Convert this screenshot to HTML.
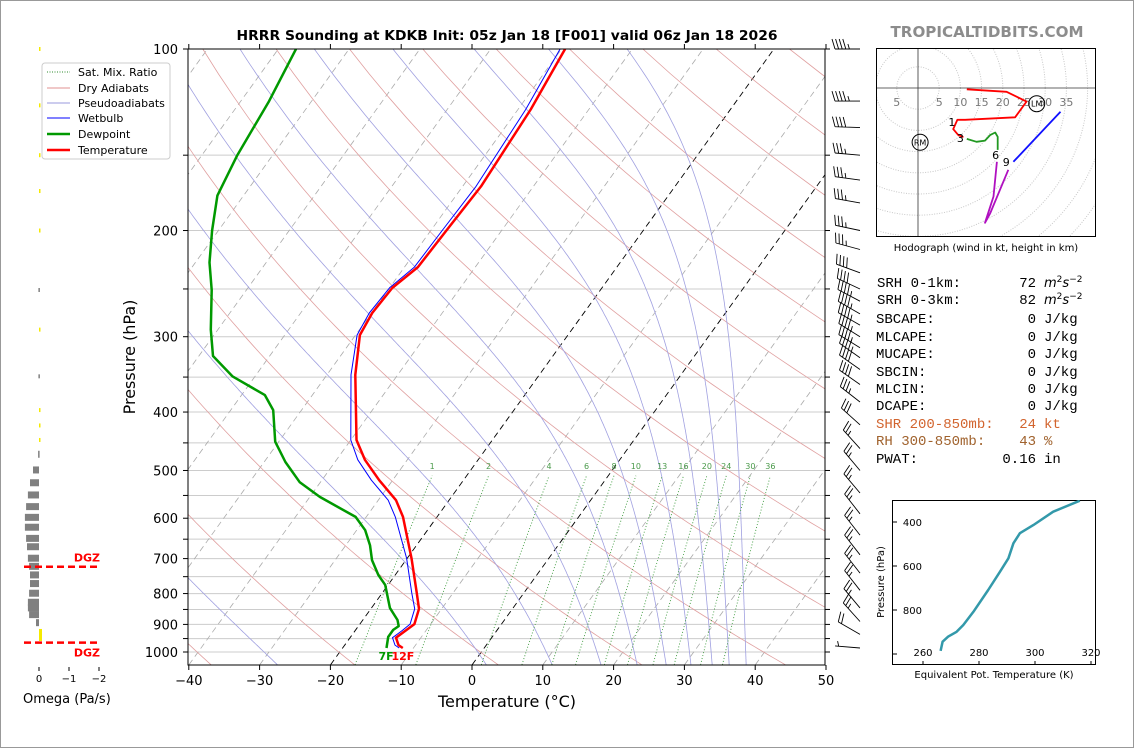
<!DOCTYPE html>
<html><head><meta charset="utf-8"><title>HRRR Sounding KDKB</title>
<style>
html,body{margin:0;padding:0;background:#fff;}
svg{display:block;font-family:"DejaVu Sans","Liberation Sans",sans-serif;}
</style></head>
<body>
<svg id="fig" width="1134" height="748" viewBox="0 0 1134 748" xmlns="http://www.w3.org/2000/svg">
<defs>
<clipPath id="mainClip"><rect x="188" y="49" width="637" height="616"/></clipPath>
<clipPath id="hodoClip"><rect x="876" y="48" width="220" height="189"/></clipPath>
<clipPath id="theClip"><rect x="892" y="500" width="204" height="165"/></clipPath>
</defs>
<rect x="0.5" y="0.5" width="1133" height="747" fill="#fff" stroke="#999"/>
<g id="bg" clip-path="url(#mainClip)"></g>
<g id="prof" clip-path="url(#mainClip)"></g>
<g id="axes"></g>
<g id="barbs"></g>
<g id="omega"></g>
<g id="hodo"></g>
<g id="thetae"></g>

<text x="507" y="40" text-anchor="middle" font-size="13" font-weight="bold" textLength="541" lengthAdjust="spacingAndGlyphs">HRRR Sounding at KDKB Init: 05z Jan 18 [F001] valid 06z Jan 18 2026</text>
<text x="987" y="37" text-anchor="middle" font-size="15" font-weight="bold" fill="#8c8c8c" textLength="193" lengthAdjust="spacingAndGlyphs">TROPICALTIDBITS.COM</text>
<text x="507" y="707" text-anchor="middle" font-size="16">Temperature (°C)</text>
<text x="135" y="357" text-anchor="middle" font-size="16" transform="rotate(-90 135 357)">Pressure (hPa)</text>
<text x="23" y="703" font-size="13">Omega (Pa/s)</text>

<g>
<rect x="42" y="63" width="128" height="96" rx="3" fill="#fff" stroke="#ccc"/>
<line x1="47" y1="72" x2="70" y2="72" stroke="#2e8b2e" stroke-dasharray="1,1.5"/>
<text x="78" y="76" font-size="11">Sat. Mix. Ratio</text>
<line x1="47" y1="88" x2="70" y2="88" stroke="#e09090"/>
<text x="78" y="92" font-size="11">Dry Adiabats</text>
<line x1="47" y1="103" x2="70" y2="103" stroke="#9999dd"/>
<text x="78" y="107" font-size="11">Pseudoadiabats</text>
<line x1="47" y1="118" x2="70" y2="118" stroke="#0000ff"/>
<text x="78" y="122" font-size="11">Wetbulb</text>
<line x1="47" y1="134" x2="70" y2="134" stroke="#009900" stroke-width="2.5"/>
<text x="78" y="138" font-size="11">Dewpoint</text>
<line x1="47" y1="150" x2="70" y2="150" stroke="#ff0000" stroke-width="2.5"/>
<text x="78" y="154" font-size="11">Temperature</text>
</g>

<g font-family="'Liberation Mono','DejaVu Sans Mono',monospace" font-size="14">
<text x="877" y="287">SRH 0-1km:</text><text x="1036" y="287" text-anchor="end">72</text>
<text x="1044" y="287" font-family="'DejaVu Sans',sans-serif" font-style="italic" font-size="13">m<tspan dy="-5" font-size="9" font-style="normal">2</tspan><tspan dy="5">s</tspan><tspan dy="-5" font-size="9" font-style="normal">−2</tspan></text>
<text x="877" y="304">SRH 0-3km:</text><text x="1036" y="304" text-anchor="end">82</text>
<text x="1044" y="304" font-family="'DejaVu Sans',sans-serif" font-style="italic" font-size="13">m<tspan dy="-5" font-size="9" font-style="normal">2</tspan><tspan dy="5">s</tspan><tspan dy="-5" font-size="9" font-style="normal">−2</tspan></text>
<text x="876" y="323">SBCAPE:</text><text x="1036" y="323" text-anchor="end">0</text><text x="1044" y="323">J/kg</text>
<text x="876" y="341">MLCAPE:</text><text x="1036" y="341" text-anchor="end">0</text><text x="1044" y="341">J/kg</text>
<text x="876" y="358">MUCAPE:</text><text x="1036" y="358" text-anchor="end">0</text><text x="1044" y="358">J/kg</text>
<text x="876" y="376">SBCIN:</text><text x="1036" y="376" text-anchor="end">0</text><text x="1044" y="376">J/kg</text>
<text x="876" y="393">MLCIN:</text><text x="1036" y="393" text-anchor="end">0</text><text x="1044" y="393">J/kg</text>
<text x="876" y="410">DCAPE:</text><text x="1036" y="410" text-anchor="end">0</text><text x="1044" y="410">J/kg</text>
<g fill="#d2642e"><text x="876" y="428">SHR 200-850mb:</text><text x="1036" y="428" text-anchor="end">24</text><text x="1044" y="428">kt</text></g>
<g fill="#a0622d"><text x="876" y="445">RH 300-850mb:</text><text x="1036" y="445" text-anchor="end">43</text><text x="1044" y="445">%</text></g>
<text x="876" y="463">PWAT:</text><text x="1036" y="463" text-anchor="end">0.16</text><text x="1044" y="463">in</text>
</g>
</svg>
<script>
// ---- data ----
const tempP   = [100,126,169,200,230,249,274,298,347,445,480,519,560,597,699,799,848,899,923,947,974,985];
const tempC   = [-49.5,-48.2,-47.4,-47.8,-48.1,-49.6,-49.9,-49.4,-46.0,-39.2,-36.0,-31.9,-27.5,-24.8,-19.4,-15.1,-13.2,-12.3,-12.9,-13.5,-12.4,-11.5];
const wetbC   = [-50.2,-48.9,-48.1,-48.4,-48.6,-50.0,-50.3,-49.8,-46.6,-40.0,-37.0,-33.0,-28.6,-25.9,-20.1,-15.8,-13.8,-12.9,-13.4,-14.0,-12.9,-12.0];
const dewP    = [100,122,150,175,200,226,251,292,323,349,375,397,448,484,523,553,597,628,665,704,745,774,845,885,906,919,944,985];
const dewC    = [-87.5,-86.0,-85.0,-83.7,-80.9,-78.0,-74.9,-71.0,-68.0,-63.2,-56.7,-54.0,-50.5,-47.0,-42.9,-38.6,-31.5,-28.8,-26.6,-24.8,-22.4,-20.4,-17.4,-15.1,-14.3,-14.7,-14.7,-13.8];
const surfaceLabels = ["7F","12F"];
const mixRatios = [1,2,4,6,8,10,13,16,20,24,30,36];
const tempTicks = [-40,-30,-20,-10,0,10,20,30,40,50];
const presTicks = [100,200,300,400,500,600,700,800,900,1000];
const barbP   = [100,122,135,150,165,180,200,215,235,250,262,275,287,300,313,325,340,360,385,420,460,500,545,590,640,690,740,790,845,890,935,985];
const barbDir = [270,270,272,275,278,280,282,285,290,295,298,300,300,302,302,305,305,305,308,312,318,320,320,322,322,322,322,322,320,318,300,275];
const barbSpd = [45,45,40,35,35,35,35,35,40,40,45,45,45,45,45,45,40,40,35,30,25,25,25,25,25,25,25,25,25,25,20,5];
const omegaP  = [100,124,150,172,200,251,292,349,397,421,445,470,499,524,549,574,598,621,648,669,699,721,745,770,799,827,845,867,894,937];
const omegaV  = [-0.03,-0.03,-0.03,-0.03,-0.03,0.02,-0.02,0.02,-0.02,-0.02,-0.02,0.03,0.2,0.3,0.37,0.43,0.47,0.47,0.43,0.4,0.37,0.33,0.3,0.3,0.33,0.37,0.37,0.33,0.1,-0.1];
const omegaTicks = [0,-1,-2];
const dgzP = [722,965];
const hodoU0 = [11.5,20.9,25.6,22.9,11.1,9.3,8.3,9.5,10.7];
const hodoV0 = [-0.3,-0.9,-3.2,-6.9,-7.5,-7.5,-9.7,-11.1,-11.6];
const hodoU3 = [11.5,13.8,15.8,17.0,18.2,18.8,18.8];
const hodoV3 = [-12.0,-12.7,-12.4,-11.1,-10.5,-11.5,-14.6];
const hodoU6 = [18.6,17.8,15.8,17.0,21.3];
const hodoV6 = [-17.4,-25.6,-31.8,-29.6,-19.3];
const hodoU9 = [22.5,33.6];
const hodoV9 = [-17.4,-5.6];
const hodoTickVals = [-5,5,10,15,20,25,30,35];
const thetaK = [266.3,267.0,269.0,272.0,274.4,278.0,283.3,287.5,290.5,292.3,294.6,299.4,306.5,316.0];
const thetaP = [986,944,921,899,868,808,709,626,565,497,451,414,353,303];
const thetaXTicks = [260,280,300,320];
const thetaYTicks = [400,600,800,1000];

// ---- helpers ----
const NS="http://www.w3.org/2000/svg";
const SKEW=0.72;
function mk(tag,parent){const e=document.createElementNS(NS,tag);parent.appendChild(e);return e;}
function yP(p){return 49+603*Math.log10(p/100);}
function xT(T,p){return 472+7.08*T+SKEW*(665-yP(p));}
function esat(T){return 6.112*Math.exp(17.67*T/(T+243.5));}
function tdFromE(e){const l=Math.log(e/6.112);return 243.5*l/(17.67-l);}
function ptsStr(a){return a.map(q=>q[0].toFixed(1)+","+q[1].toFixed(1)).join(" ");}

const bg=document.getElementById('bg');
for(let p=150;p<=1000;p+=50){
  const l=mk('line',bg);
  
  
  l.setAttribute('x1',188);l.setAttribute('x2',825);l.setAttribute('y1',yP(p));l.setAttribute('y2',yP(p));
  l.setAttribute('stroke','#cccccc');l.setAttribute('stroke-width','1');
}
for(let T=-130;T<=50;T+=10){
  const l=mk('line',bg);
  
  
  l.setAttribute('x1',xT(T,1050));l.setAttribute('y1',yP(1050));
  l.setAttribute('x2',xT(T,100));l.setAttribute('y2',yP(100));
  const special=(T===0||T===-20);
  l.setAttribute('stroke',special?'#000':'#aaaaaa');
  l.setAttribute('stroke-width',special?'0.9':'0.8');
  l.setAttribute('stroke-dasharray','6,4');
}
for(let th=173;th<=513;th+=20){
  const pts=[];
  for(let p=1050;p>=100;p-=10){const T=th*Math.pow(p/1000,0.2857)-273.15;pts.push([xT(T,p),yP(p)]);}
  const l=mk('polyline',bg);
  
  
  l.setAttribute('points',ptsStr(pts));l.setAttribute('fill','none');l.setAttribute('stroke','#e0a0a0');l.setAttribute('stroke-width','0.8');
}
const pseudoStart=[-45,-27.5,2,11.3,18.2,23.3,27.4,30.9,33.9,36.3,38.7];
pseudoStart.forEach(T0=>{
  let T=T0+273.15;const pts=[];
  for(let p=1050;p>=100;p-=2){
    pts.push([xT(T-273.15,p),yP(p)]);
    const es=esat(T-273.15);const rs=0.622*es/Math.max(p-es,1);
    const dTdp=(287.04*T+2.501e6*rs)/(p*(1005.7+2.501e6*2.501e6*rs*0.622/(287.04*T*T)));
    T-=2*dTdp;
  }
  const l=mk('polyline',bg);
  
  
  l.setAttribute('points',ptsStr(pts));l.setAttribute('fill','none');l.setAttribute('stroke','#a0a0e0');l.setAttribute('stroke-width','0.8');
});
mixRatios.forEach(w=>{
  const pts=[];
  for(let p=1050;p>=510;p-=10){pts.push([xT(tdFromE(w*p/(622+w)),p),yP(p)]);}
  const l=mk('polyline',bg);
  
  
  l.setAttribute('points',ptsStr(pts));l.setAttribute('fill','none');
  l.setAttribute('stroke','#3c9a3c');l.setAttribute('stroke-width','0.9');l.setAttribute('stroke-dasharray','1,2');
  const t=mk('text',bg);
  
  
  t.setAttribute('x',pts[pts.length-1][0]);t.setAttribute('y',469);t.setAttribute('text-anchor','middle');
  t.setAttribute('font-size','8');t.setAttribute('fill','#4a9a4a');t.textContent=w;
});

const prof=document.getElementById('prof');
function profLine(P,T,color,w,name){
  const l=mk('polyline',prof);
  
  
  l.setAttribute('points',ptsStr(P.map((p,i)=>[xT(T[i],p),yP(p)])));
  l.setAttribute('fill','none');l.setAttribute('stroke',color);l.setAttribute('stroke-width',w);l.setAttribute('stroke-linejoin','round');
}
profLine(dewP,dewC,'#009900','2.5','dewpoint-line');
profLine(tempP,wetbC,'#0000ff','1','wetbulb-line');
profLine(tempP,tempC,'#ff0000','2.5','temperature-line');
{
  const bx=xT(dewC[dewC.length-1],dewP[dewP.length-1]);
  const sd=mk('text',prof);
  
  
  sd.setAttribute('x',bx-8);sd.setAttribute('y',660);
  sd.setAttribute('font-size','11');sd.setAttribute('font-weight','bold');sd.setAttribute('fill','#009900');sd.textContent=surfaceLabels[0];
  const st=mk('text',prof);
  
  
  st.setAttribute('x',bx+5);st.setAttribute('y',660);
  st.setAttribute('font-size','11');st.setAttribute('font-weight','bold');st.setAttribute('fill','#ff0000');st.textContent=surfaceLabels[1];
}

const ax=document.getElementById('axes');
{
  const r=mk('rect',ax);
  
  
  r.setAttribute('x',188);r.setAttribute('y',49);r.setAttribute('width',637);r.setAttribute('height',616);
  r.setAttribute('fill','none');r.setAttribute('stroke','#000');r.setAttribute('stroke-width','1');
}
tempTicks.forEach(T=>{
  const x=472+7.08*T;
  [[665,670],[49,44]].forEach(yy=>{
    const l=mk('line',ax);
    
    
    l.setAttribute('x1',x);l.setAttribute('x2',x);l.setAttribute('y1',yy[0]);l.setAttribute('y2',yy[1]);l.setAttribute('stroke','#000');
  });
  const t=mk('text',ax);
  
  
  t.setAttribute('x',x);t.setAttribute('y',685);t.setAttribute('text-anchor','middle');t.setAttribute('font-size','13');
  t.textContent=T<0?'\u2212'+Math.abs(T):String(T);
});
for(let p=100;p<=1000;p+=50){
  [[188,183],[825,830]].forEach(xx=>{
    const l=mk('line',ax);
    
    
    l.setAttribute('x1',xx[0]);l.setAttribute('x2',xx[1]);l.setAttribute('y1',yP(p));l.setAttribute('y2',yP(p));l.setAttribute('stroke','#000');
  });
}
presTicks.forEach(p=>{
  const t=mk('text',ax);
  
  
  t.setAttribute('x',178);t.setAttribute('y',yP(p)+5);t.setAttribute('text-anchor','end');t.setAttribute('font-size','13');t.textContent=p;
});

const bgr=document.getElementById('barbs');
barbP.forEach((p,i)=>{
  const L=25, th=barbDir[i]*Math.PI/180;
  const sx=Math.sin(th), sy=-Math.cos(th);
  const fx=-sy, fy=sx;
  const bx=860, by=yP(p);
  const tx=bx+L*sx, ty=by+L*sy;
  let d='M'+bx.toFixed(1)+','+by.toFixed(1)+'L'+tx.toFixed(1)+','+ty.toFixed(1);
  let spd=Math.round(barbSpd[i]/5)*5, k=0;
  const sp=3.6;
  while(spd>=50){
    const ax1=tx-k*sp*sx, ay1=ty-k*sp*sy;
    d+='M'+ax1.toFixed(1)+','+ay1.toFixed(1)+'L'+(ax1+10*fx).toFixed(1)+','+(ay1+10*fy).toFixed(1)+'L'+(ax1-sp*sx).toFixed(1)+','+(ay1-sp*sy).toFixed(1);
    spd-=50;k++;
  }
  while(spd>=10){
    const ax1=tx-k*sp*sx, ay1=ty-k*sp*sy;
    d+='M'+ax1.toFixed(1)+','+ay1.toFixed(1)+'L'+(ax1+10*fx+3*sx).toFixed(1)+','+(ay1+10*fy+3*sy).toFixed(1);
    spd-=10;k++;
  }
  if(spd>=5){
    if(k===0)k=1;
    const ax1=tx-k*sp*sx, ay1=ty-k*sp*sy;
    d+='M'+ax1.toFixed(1)+','+ay1.toFixed(1)+'L'+(ax1+5*fx+1.5*sx).toFixed(1)+','+(ay1+5*fy+1.5*sy).toFixed(1);
  }
  const path=mk('path',bgr);
  
  
  path.setAttribute('d',d);path.setAttribute('fill','none');path.setAttribute('stroke','#000');path.setAttribute('stroke-width','0.9');
});

const om=document.getElementById('omega');
function xO(o){return 39-30*o;}
omegaP.forEach((p,i)=>{
  const v=omegaV[i];
  const r=mk('rect',om);
  
  
  const x0=Math.min(xO(0),xO(v)), w=Math.max(Math.abs(xO(v)-xO(0)),1.5);
  const h=(p<450)?4:(p>900?12:7);
  r.setAttribute('x',x0);r.setAttribute('y',yP(p)-h/2);r.setAttribute('width',w);r.setAttribute('height',h);
  r.setAttribute('fill',v<0?'#f5ea00':'#808080');
});
dgzP.forEach((p,i)=>{
  const l=mk('line',om);
  
  
  l.setAttribute('x1',24);l.setAttribute('x2',99);l.setAttribute('y1',yP(p));l.setAttribute('y2',yP(p));
  l.setAttribute('stroke','#ff0000');l.setAttribute('stroke-width','2.5');l.setAttribute('stroke-dasharray','7,4');
  const t=mk('text',om);
  
  
  t.setAttribute('x',100);t.setAttribute('y',i===0?yP(p)-5:yP(p)+14);t.setAttribute('text-anchor','end');
  t.setAttribute('font-size','11');t.setAttribute('font-weight','bold');t.setAttribute('fill','#ff0000');t.textContent='DGZ';
});
omegaTicks.forEach(o=>{
  const l=mk('line',om);
  
  
  l.setAttribute('x1',xO(o));l.setAttribute('x2',xO(o));l.setAttribute('y1',667);l.setAttribute('y2',671);l.setAttribute('stroke','#000');
  const t=mk('text',om);
  
  
  t.setAttribute('x',xO(o));t.setAttribute('y',682);t.setAttribute('text-anchor','middle');t.setAttribute('font-size','10');
  t.textContent=o<0?'\u2212'+Math.abs(o):String(o);
});

const hg=document.getElementById('hodo');
const H0x=918,H0y=88,HK=4.24;
function hx(u){return H0x+HK*u;} function hy(v){return H0y-HK*v;}
{
  const cg=mk('g',hg);cg.setAttribute('clip-path','url(#hodoClip)');
  
  
  for(let r=5;r<=60;r+=5){
    const c=mk('circle',cg);
    
    
    c.setAttribute('cx',H0x);c.setAttribute('cy',H0y);c.setAttribute('r',r*HK);c.setAttribute('fill','none');c.setAttribute('stroke','#c8c8c8');c.setAttribute('stroke-dasharray','1,1.5');
  }
  const a1=mk('line',cg);
  
  
  a1.setAttribute('x1',876);a1.setAttribute('x2',1096);a1.setAttribute('y1',H0y);a1.setAttribute('y2',H0y);a1.setAttribute('stroke','#333');a1.setAttribute('stroke-width','0.8');
  const a2=mk('line',cg);
  
  
  a2.setAttribute('x1',H0x);a2.setAttribute('x2',H0x);a2.setAttribute('y1',48);a2.setAttribute('y2',237);a2.setAttribute('stroke','#333');a2.setAttribute('stroke-width','0.8');
  hodoTickVals.forEach(v=>{
    const t=mk('text',cg);
    
    
    t.setAttribute('x',hx(v));t.setAttribute('y',106);t.setAttribute('text-anchor','middle');t.setAttribute('font-size','11');t.setAttribute('fill','#777');t.textContent=Math.abs(v);
  });
  function seg(U,V,col,name){
    const l=mk('polyline',cg);
    
    
    l.setAttribute('points',ptsStr(U.map((u,i)=>[hx(u),hy(V[i])])));l.setAttribute('fill','none');l.setAttribute('stroke',col);l.setAttribute('stroke-width','1.8');l.setAttribute('stroke-linejoin','round');
  }
  seg(hodoU0,hodoV0,'#ff0000','hodo-0-3km');
  seg(hodoU3,hodoV3,'#229922','hodo-3-6km');
  seg(hodoU6,hodoV6,'#b010c0','hodo-6-9km');
  seg(hodoU9,hodoV9,'#1010ff','hodo-9-12km');
  [['1',hodoU0[5]-1.3,hodoV0[5]-0.5],['3',hodoU3[0]-1.5,hodoV3[0]+0.2],['6',hodoU6[0]-0.3,hodoV6[0]+1.6],['9',hodoU6[4]-0.5,hodoV6[4]+1.8]].forEach(a=>{
    const t=mk('text',cg);
    
    
    t.setAttribute('x',hx(a[1]));t.setAttribute('y',hy(a[2])+4);t.setAttribute('text-anchor','middle');t.setAttribute('font-size','11');t.textContent=a[0];
  });
  [['RM',0.5,-12.8],['LM',28,-3.7]].forEach(a=>{
    const c=mk('circle',cg);
    
    
    c.setAttribute('cx',hx(a[1]));c.setAttribute('cy',hy(a[2]));c.setAttribute('r',8);c.setAttribute('fill','none');c.setAttribute('stroke','#000');
    const t=mk('text',cg);
    
    
    t.setAttribute('x',hx(a[1]));t.setAttribute('y',hy(a[2])+3);t.setAttribute('text-anchor','middle');t.setAttribute('font-size','8');t.textContent=a[0];
  });
  const fr=mk('rect',hg);
  
  
  fr.setAttribute('x',876.5);fr.setAttribute('y',48.5);fr.setAttribute('width',219);fr.setAttribute('height',188);fr.setAttribute('fill','none');fr.setAttribute('stroke','#000');
  const cap=mk('text',hg);
  
  
  cap.setAttribute('x',986);cap.setAttribute('y',251);cap.setAttribute('text-anchor','middle');cap.setAttribute('font-size','10');cap.textContent='Hodograph (wind in kt, height in km)';
}

const te=document.getElementById('thetae');
function tx_(k){return 923+2.8*(k-260);} function ty_(p){return 522+0.22*(p-400);}
{
  const fr=mk('rect',te);
  
  
  fr.setAttribute('x',892.5);fr.setAttribute('y',500.5);fr.setAttribute('width',203);fr.setAttribute('height',164);fr.setAttribute('fill','#fff');fr.setAttribute('stroke','#000');
  const g=mk('g',te);g.setAttribute('clip-path','url(#theClip)');
  
  
  const l=mk('polyline',g);
  
  
  l.setAttribute('points',ptsStr(thetaK.map((k,i)=>[tx_(k),ty_(thetaP[i])])));l.setAttribute('fill','none');l.setAttribute('stroke','#3399aa');l.setAttribute('stroke-width','2.5');l.setAttribute('stroke-linejoin','round');
  thetaXTicks.forEach(k=>{
    const tk=mk('line',te);
    
    
    tk.setAttribute('x1',tx_(k));tk.setAttribute('x2',tx_(k));tk.setAttribute('y1',665);tk.setAttribute('y2',661);tk.setAttribute('stroke','#000');
    const t=mk('text',te);
    
    
    t.setAttribute('x',tx_(k));t.setAttribute('y',656);t.setAttribute('text-anchor','middle');t.setAttribute('font-size','10');t.textContent=k;
  });
  thetaYTicks.forEach(p=>{
    const tk=mk('line',te);
    
    
    tk.setAttribute('x1',892);tk.setAttribute('x2',897);tk.setAttribute('y1',ty_(p));tk.setAttribute('y2',ty_(p));tk.setAttribute('stroke','#000');
    if(p<1000){
      const t=mk('text',te);
      
      
      t.setAttribute('x',922);t.setAttribute('y',ty_(p)+4);t.setAttribute('text-anchor','end');t.setAttribute('font-size','10');t.textContent=p;
    }
  });
  const yl=mk('text',te);
  
  
  yl.setAttribute('x',884);yl.setAttribute('y',582);yl.setAttribute('text-anchor','middle');yl.setAttribute('font-size','10');yl.setAttribute('transform','rotate(-90 884 582)');yl.textContent='Pressure (hPa)';
  const xl=mk('text',te);
  
  
  xl.setAttribute('x',994);xl.setAttribute('y',678);xl.setAttribute('text-anchor','middle');xl.setAttribute('font-size','10');xl.textContent='Equivalent Pot. Temperature (K)';
}
</script>
</body></html>
